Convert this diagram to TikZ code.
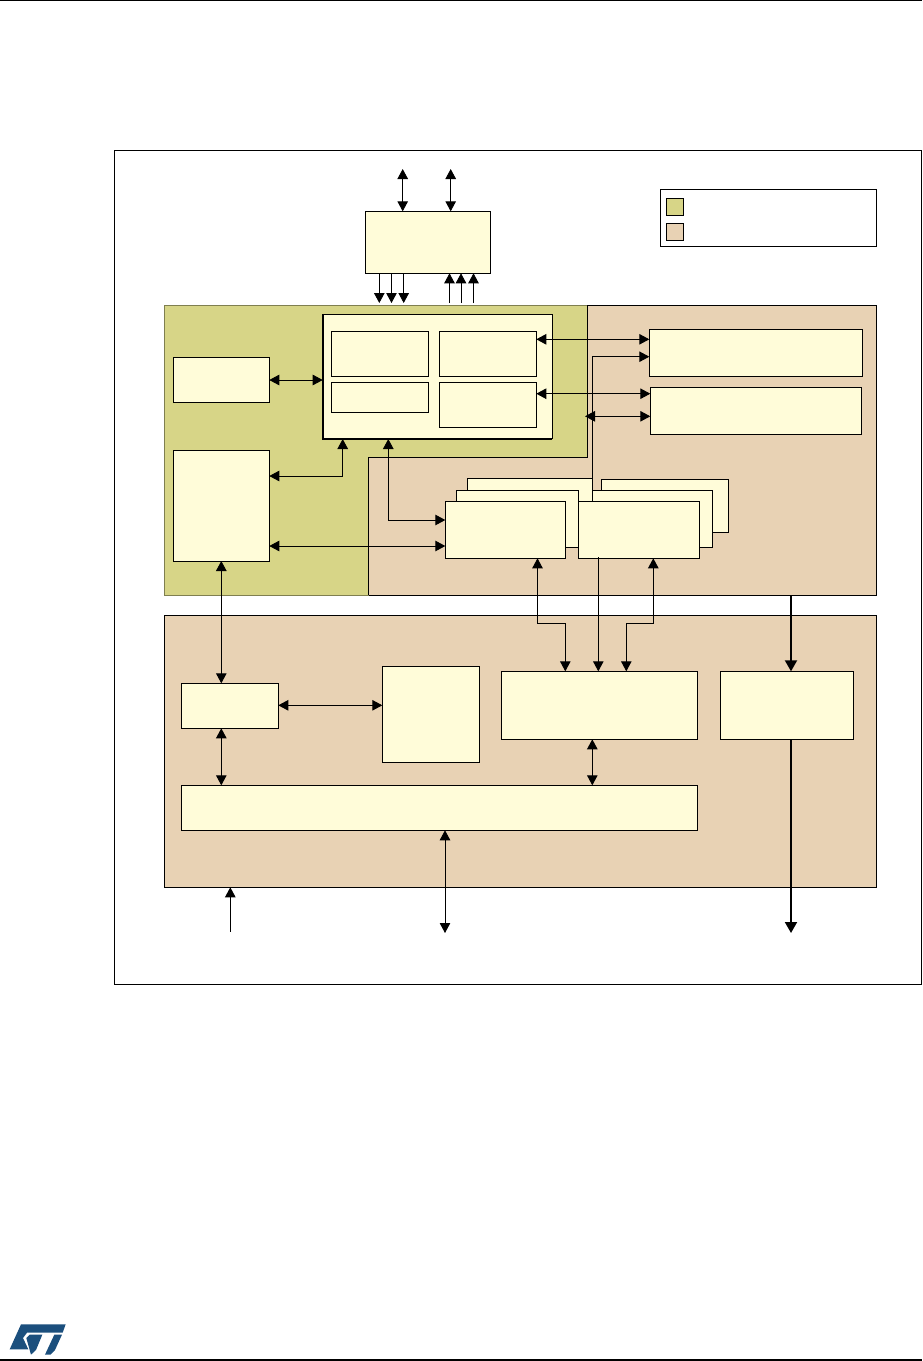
\documentclass[tikz,border=0pt]{standalone}
\usetikzlibrary{arrows.meta}
\definecolor{greenzone}{HTML}{D7D587}
\definecolor{tanzone}{HTML}{E8D2B4}
\definecolor{paleblock}{HTML}{FFFCD9}
\definecolor{stblue}{HTML}{1B4F7D}
\definecolor{olivedge}{HTML}{7F7F50}
\tikzset{
  boxn/.style={draw=black,line width=.9pt,fill=paleblock,rectangle,inner sep=0pt,outer sep=0pt,anchor=north west},
  framen/.style={draw=black,line width=.9pt,fill=none,rectangle,inner sep=0pt,outer sep=0pt,anchor=north west},
  tann/.style={boxn,fill=tanzone},
  greenn/.style={boxn,fill=greenzone},
  con/.style={draw=black,line width=.9pt},
  single/.style={con,-{Triangle[length=10pt,width=10.5pt]}},
  bi/.style={con,{Triangle[length=10pt,width=10.5pt]}-{Triangle[length=10pt,width=10.5pt]}},
  heavy/.style={draw=black,line width=1.9pt,-{Triangle[length=11pt,width=12pt]}},
  rule/.style={draw=black,line width=1.2pt}
}
\newcommand{\bx}[6]{\node[#2,minimum width={(#5-#3)*1pt},minimum height={(#6-#4)*1pt}] (#1) at (#3,#4) {};}
\begin{document}
\begin{tikzpicture}[x=1pt,y=-1pt]
\useasboundingbox (0,0) rectangle (922,1361);
\fill[white] (0,0) rectangle (922,1361);
% page rules
\coordinate (hdA) at (0,.6); \coordinate (hdB) at (922,.6);
\coordinate (ftA) at (0,1360); \coordinate (ftB) at (922,1360);
\draw[rule] (hdA) -- (hdB);
\draw[rule] (ftA) -- (ftB);
% logo
\begin{scope}[x=.3333pt,y=-.3333pt,shift={(5pt,-1320pt)}]
\fill[stblue] (48,13) -- (182,13) -- (173,38) -- (66,38) -- (54,54) -- (70,88) -- (14,88) -- cycle;
\fill[stblue] (74,44) -- (112,44) -- (93,90) -- (78,104) -- (64,54) -- cycle;
\fill[stblue] (148,44) -- (171,44) -- (150,90) -- (136,104) -- (120,104) -- cycle;
\end{scope}
% outer frame and legend
\bx{frame}{framen}{114.5}{150.5}{921}{984.7}
\bx{legend}{framen}{660.3}{189.3}{876.3}{246.3}
\bx{legG}{greenn}{666.3}{198.3}{683.3}{215.3}
\bx{legT}{tann}{666.3}{223.3}{683.3}{240.3}
% zones
\bx{tanU}{tann}{368.5}{305.3}{876.3}{595.3}
\fill[greenzone] (164.3,305.3) -- (587.5,305.3) -- (587.5,457) -- (368.5,457) -- (368.5,595.3) -- (164.3,595.3) -- cycle;
\draw[olivedge,line width=.9pt] (368.5,595.3) -- (164.3,595.3) -- (164.3,305.3) -- (587.5,305.3);
\draw[black,line width=.9pt] (587.5,305.3) -- (587.5,457) -- (368.5,457) -- (368.5,595.3);
\bx{tanL}{tann}{164.3}{615}{876.3}{887.3}
% top block
\bx{top}{boxn}{365.3}{211.3}{490.3}{273.3}
% processor
\bx{cpu}{boxn}{322.7}{314.3}{552.3}{438.7}
\draw[black,line width=1.9pt] (cpu.north west) -- (cpu.south west) -- (cpu.south east);
\bx{ca}{boxn}{331.3}{331.3}{428.3}{376.3}
\bx{cb}{boxn}{439.3}{331.3}{536.3}{376.3}
\bx{cc}{boxn}{331.3}{382.3}{428.3}{412.3}
\bx{cd}{boxn}{439.3}{382.3}{536.3}{427.3}
\bx{lsm}{boxn}{173.3}{357.3}{269.3}{402.3}
\bx{ltl}{boxn}{173.3}{450.3}{269.3}{561}
\bx{re}{boxn}{649.3}{329.3}{862.3}{376.3}
\bx{rf}{boxn}{650.3}{387.3}{861.3}{434.3}
% stacked blocks
\bx{rb3}{boxn}{601.3}{479.3}{728.3}{532.3}
\bx{lb3}{boxn}{467.7}{478.3}{592.3}{536}
\bx{rb2}{boxn}{592.3}{490.7}{712.7}{547}
\bx{lb2}{boxn}{456.3}{490.7}{578.3}{547}
\bx{lb1}{boxn}{445.3}{501.3}{565.7}{558.3}
\bx{rb1}{boxn}{578.3}{501.3}{699.3}{558.3}
% lower zone
\bx{lg}{boxn}{501.3}{671.3}{697.3}{739.3}
\bx{lh}{boxn}{720.3}{671.3}{853.3}{739.3}
\bx{li}{boxn}{181.3}{785.3}{697.3}{830.3}
\bx{lj}{boxn}{181.3}{683.3}{278.3}{728.3}
\bx{lk}{boxn}{382.3}{666.3}{479.3}{762.3}
% free ends
\coordinate (t1) at (402.7,169);
\coordinate (t2) at (450.7,169);
\coordinate (d1) at (379.3,303);
\coordinate (d2) at (391.5,303);
\coordinate (d3) at (403.7,303);
\coordinate (u1) at (449.5,303);
\coordinate (u2) at (461,303);
\coordinate (u3) at (473.5,303);
\coordinate (greenE) at (585,416.3);
\coordinate (hIn) at (791,595.3);
\coordinate (b1) at (230.3,931.7);
\coordinate (b2) at (445,933);
\coordinate (b3) at (791,933);
\coordinate (zoneB) at (230.3,887.3);
% top connectors
\draw[bi] (t1) -- (t1 |- top.north);
\draw[bi] (t2) -- (t2 |- top.north);
\draw[single] (d1 |- top.south) -- (d1);
\draw[single] (d2 |- top.south) -- (d2);
\draw[single] (d3 |- top.south) -- (d3);
\draw[single] (u1) -- (u1 |- top.south);
\draw[single] (u2) -- (u2 |- top.south);
\draw[single] (u3) -- (u3 |- top.south);
% processor connectors
\draw[bi] (lsm.east |- 0,380) -- (cpu.west |- 0,380);
\draw[bi] (ltl.east |- 0,476) -- (342.7,476) -- (342.7,439);
\draw[bi] (388.3,439) -- (388.3,520) -- (lb1.west |- 0,520);
\draw[bi] (ltl.east |- 0,546) -- (lb1.west |- 0,546);
\draw[bi] (cb.east |- 0,339.3) -- (re.west |- 0,339.3);
\draw[bi] (cd.east |- 0,393.7) -- (rf.west |- 0,393.7);
\draw[bi] (greenE) -- (rf.west |- greenE);
\draw[single] (592.3,478.3) -- (592.3,356.7) -- (re.west |- 0,356.7);
% stacked to lower zone
\draw[bi] (537.5,558.3) -- (537.5,623) -- (565.3,623) -- (565.3,671.3);
\draw[single] (598.3,557) -- (598.3,671.3);
\draw[bi] (653.3,558.3) -- (653.3,623) -- (626.3,623) -- (626.3,671.3);
% lower zone connectors
\draw[bi] (221.3,561) -- (221.3,683.3);
\draw[bi] (221.3,728.3) -- (221.3,785.3);
\draw[bi] (lj.east |- 0,705.3) -- (lk.west |- 0,705.3);
\draw[bi] (592.3,739.3) -- (592.3,785.3);
\draw[bi] (b2 |- li.south) -- (b2);
\draw[single] (b1) -- (zoneB);
\draw[heavy] (hIn) -- (hIn |- lh.north);
\draw[heavy] (b3 |- lh.south) -- (b3);
\end{tikzpicture}
\end{document}
